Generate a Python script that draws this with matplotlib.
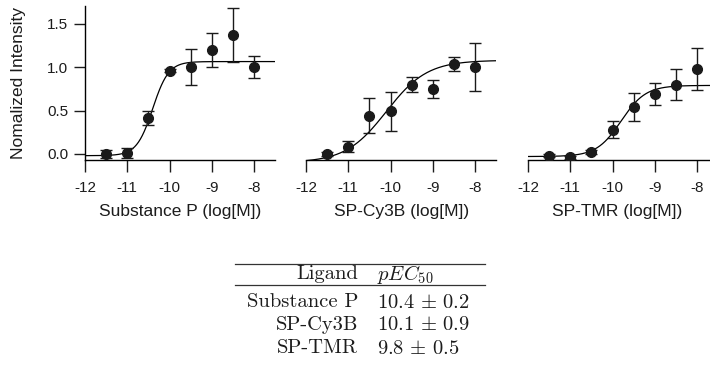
import numpy as np
import matplotlib
matplotlib.use("Agg")
import matplotlib.pyplot as plt
from matplotlib.lines import Line2D

plt.rcParams['font.family'] = ['Liberation Sans', 'DejaVu Sans']
plt.rcParams['mathtext.fontset'] = 'cm'

# log concentration of ligand
log_conc = [-11.5, -11.0, -10.5, -10.0, -9.5, -9.0, -8.5, -8.0]

# Substance P
sp_mean = [0.00, 0.01, 0.41, 0.96, 1.00, 1.20, 1.37, 1.00]
sp_err = [0.05, 0.06, 0.08, 0.02, 0.21, 0.20, 0.31, 0.13]
# SP-Cy3B
cy3b_mean = [0.00, 0.085, 0.44, 0.49, 0.80, 0.75, 1.04, 1.00]
cy3b_err = [0.02, 0.06, 0.20, 0.22, 0.09, 0.10, 0.08, 0.28]
# SP-TMR
tmr_mean = [-0.02, -0.04, 0.02, 0.28, 0.54, 0.69, 0.80, 0.98]
tmr_err = [0.02, 0.02, 0.02, 0.10, 0.16, 0.125, 0.175, 0.245]

xlabels = ['Substance P (log[M])', 'SP-Cy3B (log[M])', 'SP-TMR (log[M])']

# dose-response fit: bottom, top, hill slope (logEC50 = -pEC50)
fit_bottom = [-0.02, -0.10, -0.03]
fit_top = [1.065, 1.08, 0.79]
fit_hill = [2.3, 0.9, 1.5]

# summary table
ligands = ['Substance P', 'SP-Cy3B', 'SP-TMR']
pec50 = [10.4, 10.1, 9.8]
pec50_sd = [0.2, 0.9, 0.5]

means = [sp_mean, cy3b_mean, tmr_mean]
errs = [sp_err, cy3b_err, tmr_err]

W, H = 710, 378
fig = plt.figure(figsize=(W / 100, H / 100), dpi=100)

lefts = [85, 306, 528]
label_x = [0.5, 0.5, 0.468]
ax_w, ax_bottom, ax_h = 190.4, 160, 153.5
xs = np.linspace(-12, -7.5, 300)
tc = '#1c1c1c'

for i in range(3):
    ax = fig.add_axes([lefts[i] / W, (H - ax_bottom) / H, ax_w / W, ax_h / H])
    ax.errorbar(log_conc, means[i], yerr=errs[i], fmt='o', color='#1a1a1a',
                markersize=7, elinewidth=1.0, capsize=4.3, capthick=1.0,
                zorder=3)
    ys = fit_bottom[i] + (fit_top[i] - fit_bottom[i]) / (
        1 + 10 ** ((-pec50[i] - xs) * fit_hill[i]))
    ax.plot(xs, ys, color='black', lw=0.9, zorder=2)

    ax.set_xlim(-12, -7.5)
    ax.set_ylim(-0.07, 1.70)
    ax.set_xticks([-12, -11, -10, -9, -8])
    ax.set_xticklabels(['-12', '-11', '-10', '-9', '-8'])
    for s in ['top', 'right']:
        ax.spines[s].set_visible(False)
    ax.spines['bottom'].set_linewidth(1.0)
    ax.tick_params(axis='x', direction='out', length=8.3, width=1.0,
                   labelsize=11, pad=6.5, colors=tc)
    ax.set_xlabel(xlabels[i], fontsize=12.5, color=tc)
    ax.xaxis.set_label_coords(label_x[i], -0.285)
    if i == 0:
        ax.spines['left'].set_linewidth(1.0)
        ax.set_yticks([0.0, 0.5, 1.0, 1.5])
        ax.set_yticklabels(['0.0', '0.5', '1.0', '1.5'])
        ax.tick_params(axis='y', direction='out', length=8, width=1.0,
                       labelsize=11, pad=4, colors=tc)
        ax.set_ylabel('Nomalized Intensity', fontsize=12.5, color=tc)
        ax.yaxis.set_label_coords(-0.31, 0.5)
    else:
        ax.spines['left'].set_visible(False)
        ax.set_yticks([])
    ax.patch.set_alpha(0)

# pEC50 table
def fy(py):
    return 1 - py / H

def fx(px):
    return px / W

for py in [264, 285]:
    fig.add_artist(Line2D([fx(235), fx(485)], [fy(py), fy(py)],
                          color='#333333', lw=0.9))

fs = 14.8
fig.text(fx(358), fy(274), 'Ligand', family='cmr10', fontsize=fs,
         ha='right', va='center', color=tc)
fig.text(fx(377), fy(274), r'$pEC_{50}$', fontsize=fs, ha='left',
         va='center', color=tc)
for j, name in enumerate(ligands):
    py = 302 + 23 * j
    fig.text(fx(358), fy(py), name, family='cmr10', fontsize=fs,
             ha='right', va='center', color=tc)
    fig.text(fx(377), fy(py),
             r'$%.1f\,\pm\,%.1f$' % (pec50[j], pec50_sd[j]),
             fontsize=fs, ha='left', va='center', color=tc)

fig.savefig('out.png', dpi=100)
